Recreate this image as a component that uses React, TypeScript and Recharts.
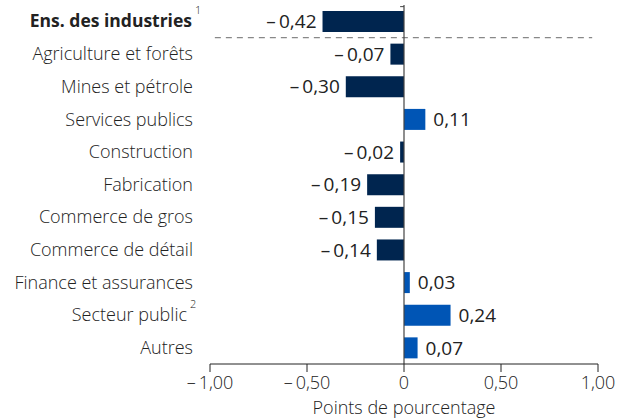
import React from "react";
import { BarChart, Bar, XAxis, YAxis, Cell, ReferenceLine, LabelList } from "recharts";

const categories = [
  "Ens. des industries",
  "Agriculture et forêts",
  "Mines et pétrole",
  "Services publics",
  "Construction",
  "Fabrication",
  "Commerce de gros",
  "Commerce de détail",
  "Finance et assurances",
  "Secteur public",
  "Autres",
];
const values = [-0.42, -0.07, -0.3, 0.11, -0.02, -0.19, -0.15, -0.14, 0.03, 0.24, 0.07];
const footnotes: Record<number, string> = { 0: "1", 9: "2" };
const xTicks = [-1, -0.5, 0, 0.5, 1];
const yTicks = categories.map((_, i) => i);

const data = categories.map((name, i) => ({ idx: i, name, value: values[i] }));

const NEG = "#00254f";
const POS = "#0055b5";
const FONT = "'Open Sans', sans-serif";
const TEXT = "#222";

const fmt = (v: number, digits: number) => {
  if (v === 0) return "0";
  const s = Math.abs(v).toFixed(digits).replace(".", ",");
  return v < 0 ? "\u2013\u2009" + s : s;
};

const YTick = (props: any) => {
  const { x, y, payload } = props;
  const i = payload.value as number;
  const name = categories[i];
  const fn = footnotes[i];
  const bold = i === 0;
  const endX = fn ? (bold ? x - 1 : x - 6) : x;
  return (
    <g>
      <text
        x={endX}
        y={y}
        dy="0.35em"
        textAnchor="end"
        fontFamily={FONT}
        fontSize={bold ? 17.5 : 18}
        fontWeight={bold ? 700 : 300}
        fill={TEXT}
      >
        {name}
      </text>
      {fn && (
        <text x={endX + 3} y={y - 7} textAnchor="start" fontFamily={FONT} fontSize={11} fontWeight={300} fill={TEXT}>
          {fn}
        </text>
      )}
    </g>
  );
};

const ValueLabel = (props: any) => {
  const { x, y, width, height, value } = props;
  const left = Math.min(x, x + width);
  const right = Math.max(x, x + width);
  const neg = value < 0;
  return (
    <text
      x={neg ? left - 6 : right + 8}
      y={y + height / 2}
      dy="0.35em"
      textAnchor={neg ? "end" : "start"}
      fontFamily={FONT}
      fontSize={19}
      fontWeight={400}
      fill={TEXT}
    >
      {fmt(value, 2)}
    </text>
  );
};

export default function App() {
  return (
    <div style={{ position: "absolute", left: 0, top: 0, width: 628, height: 420, background: "#fff" }}>
      <BarChart
        width={628}
        height={420}
        data={data}
        layout="vertical"
        margin={{ top: 5, right: 30, bottom: 2, left: 0 }}
      >
        <XAxis
          type="number"
          dataKey="value"
          domain={[-1, 1]}
          ticks={xTicks}
          interval={0}
          tickFormatter={(v: number) => fmt(v, 2)}
          axisLine={{ stroke: "#222" }}
          tickLine={{ stroke: "#222" }}
          tickSize={8}
          tickMargin={4}
          tick={{ fontFamily: FONT, fontSize: 18, fontWeight: 300, fill: TEXT }}
          height={54}
          label={{
            value: "Points de pourcentage",
            position: "insideBottom",
            offset: 4,
            style: { fontFamily: FONT, fontSize: 18, fontWeight: 300, fill: TEXT },
          }}
        />
        <YAxis
          type="number"
          dataKey="idx"
          domain={[-0.5, 10.5]}
          ticks={yTicks}
          interval={0}
          axisLine={false}
          tickLine={false}
          tickSize={0}
          tickMargin={17}
          width={210}
          tick={<YTick />}
        />
        <ReferenceLine
          segment={[{ x: -0.975, y: 0.5 }, { x: 0.97, y: 0.5 }]}
          stroke="#888"
          strokeDasharray="6 5"
          strokeWidth={1.2}
        />
        <Bar dataKey="value" barSize={21} isAnimationActive={false}>
          {data.map((d) => (
            <Cell key={d.name} fill={d.value < 0 ? NEG : POS} />
          ))}
          <LabelList dataKey="value" content={<ValueLabel />} />
        </Bar>
        <ReferenceLine x={0} stroke="#444" strokeWidth={1.2} />
        <ReferenceLine segment={[{ x: -0.02, y: -0.45 }, { x: 0, y: -0.45 }]} stroke="#444" />
      </BarChart>
    </div>
  );
}
